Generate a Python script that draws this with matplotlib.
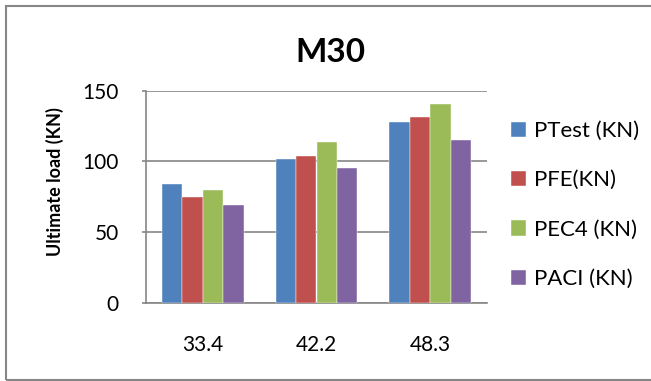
import matplotlib
matplotlib.use("Agg")
import matplotlib.pyplot as plt
import numpy as np
from matplotlib.patches import Rectangle

categories = ["33.4", "42.2", "48.3"]
series_names = ["PTest (KN)", "PFE(KN)", "PEC4 (KN)", "PACI (KN)"]
ptest = [84, 102, 128]
pfe = [75, 104, 131.5]
pec4 = [79.5, 114, 140.5]
paci = [69, 95.5, 115.5]
colors = ["#4F81BD", "#C0504D", "#9BBB59", "#8064A2"]

plt.rcParams["font.family"] = ["Lato", "DejaVu Sans"]

W, H = 651, 381
fig = plt.figure(figsize=(W / 100, H / 100), dpi=100)
# 绘图区按像素定位
ax = fig.add_axes([146 / W, 1 - 303 / H, (487 - 146) / W, (303 - 90.7) / H])

x = np.arange(len(categories))
bw = 0.18
for i, (vals, name) in enumerate(zip([ptest, pfe, pec4, paci], series_names)):
    ax.bar(x + (i - 1.5) * bw, vals, bw, color=colors[i], label=name,
           edgecolor="white", linewidth=0.3, zorder=3)

ax.set_xlim(-0.5, 2.5)
ax.set_ylim(0, 150)
ax.set_yticks([0, 50, 100, 150])
ax.set_xticks(x)
ax.set_xticklabels(categories)
ax.grid(axis="y", color="#868686", lw=1.2, zorder=0)
for s in ["top", "right"]:
    ax.spines[s].set_visible(False)
for s in ["left", "bottom"]:
    ax.spines[s].set_color("#868686")
    ax.spines[s].set_linewidth(1.2)
ax.tick_params(axis="y", length=3, width=1.2, color="#868686", labelsize=15, pad=16.5)
ax.tick_params(axis="x", length=0, labelsize=15, pad=23)

fig.text(55 / W, 1 - 181.5 / H, "Ultimate load (KN)", fontsize=13,
         fontweight="bold", rotation=90, ha="center", va="center")
fig.text(330 / W, 1 - 62 / H, "M30", fontsize=24, fontweight="bold",
         ha="center", va="baseline")

ax.legend(loc="center left", bbox_to_anchor=(511 / W, 1 - 205 / H),
          bbox_transform=fig.transFigure, frameon=False, borderpad=0,
          borderaxespad=0, fontsize=16, handlelength=0.68, handleheight=0.68,
          handletextpad=0.35, labelspacing=1.32)

# 外框(右侧在画面外)
fig.patches.append(Rectangle((5.5 / W, 1.2 / H), 1.0, 1 - 6.7 / H,
                             transform=fig.transFigure, fill=False,
                             edgecolor="#868686", lw=1.5))

fig.savefig("out.png", dpi=100)
